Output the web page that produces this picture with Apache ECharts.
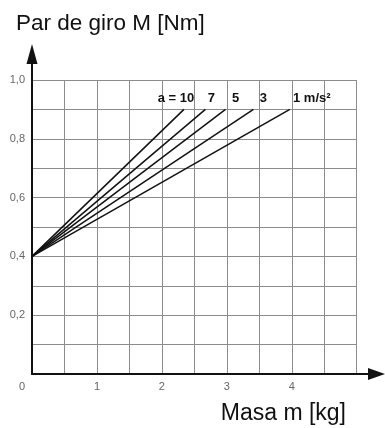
<!DOCTYPE html>
<html>
<head>
<meta charset="utf-8">
<script src="https://cdn.jsdelivr.net/npm/echarts@6/dist/echarts.min.js"></script>
<style>
  html, body { margin: 0; padding: 0; background: #fff; }
  #chart { width: 385px; height: 428px; }
</style>
</head>
<body>
<div id="chart"></div>
<script>
// aceleraciones y masa en la que cada recta llega a 0,9 Nm
const accelLabels = ['a = 10', '7', '5', '3', '1 m/s²'];
const endMass = [2.34, 2.67, 2.98, 3.41, 3.97];
const startTorque = 0.4;
const endTorque = 0.9;
const xTicks = [0, 1, 2, 3, 4];
const yTicks = [0.2, 0.4, 0.6, 0.8, 1.0];

// desplazamiento horizontal de cada etiqueta respecto al final de su recta
const labelShift = [-8, 6, 10, 10, 22];

const chart = echarts.init(document.getElementById('chart'));

const font = '"Liberation Sans", Arial, sans-serif';

const series = endMass.map((m, i) => ({
    type: 'line',
    xAxisIndex: 0,
    yAxisIndex: 0,
    symbol: 'circle',
    symbolSize: 0.01,
    showSymbol: true,
    silent: true,
    lineStyle: { color: '#111', width: 1.5 },
    itemStyle: { color: '#111' },
    data: [
        [0, startTorque],
        {
            value: [m, endTorque],
            label: {
                show: true,
                position: 'top',
                distance: 4,
                offset: [labelShift[i], 0],
                formatter: accelLabels[i],
                color: '#111',
                fontWeight: 'bold',
                fontSize: 13,
                fontFamily: font
            }
        }
    ]
}));

const option = {
    animation: false,
    title: {
        text: 'Par de giro M [Nm]',
        left: 11,
        top: 7,
        textStyle: { fontSize: 22.5, fontWeight: 'normal', color: '#111', fontFamily: font }
    },
    graphic: [{
        type: 'text',
        right: 39,
        bottom: 3,
        style: { text: 'Masa m [kg]', fontSize: 23, fill: '#111', fontFamily: font }
    }],
    grid: [
        { left: 32, right: 28.3, top: 80, bottom: 54 },
        { left: 32, right: 8.5, top: 54, bottom: 54 }
    ],
    xAxis: [{
        gridIndex: 0,
        type: 'value',
        min: 0,
        max: 5,
        interval: 0.5,
        axisLine: { show: false },
        axisTick: { show: false },
        splitLine: { lineStyle: { color: '#8c8c8c', width: 1 } },
        axisLabel: {
            margin: 7,
            color: '#666',
            fontSize: 11,
            fontFamily: font,
            formatter: v => {
                if (v === 0) return '{o|0}';
                return xTicks.includes(v) ? String(v) : '';
            },
            rich: { o: { padding: [0, 20, 0, 0], fontSize: 11, color: '#666' } }
        }
    }, {
        gridIndex: 1,
        type: 'value',
        min: 0,
        max: 1,
        axisLine: {
            show: true,
            symbol: ['none', 'triangle'],
            symbolSize: [12, 17],
            lineStyle: { color: '#111', width: 2 }
        },
        axisTick: { show: false },
        axisLabel: { show: false },
        splitLine: { show: false }
    }],
    yAxis: [{
        gridIndex: 0,
        type: 'value',
        min: 0,
        max: 1,
        interval: 0.1,
        axisLine: { show: false },
        axisTick: { show: false },
        splitLine: { lineStyle: { color: '#8c8c8c', width: 1 } },
        axisLabel: {
            margin: 7,
            color: '#666',
            fontSize: 11,
            fontFamily: font,
            formatter: v => {
                const r = Math.round(v * 10) / 10;
                return yTicks.includes(r) ? r.toFixed(1).replace('.', ',') : '';
            }
        }
    }, {
        gridIndex: 1,
        type: 'value',
        min: 0,
        max: 1,
        axisLine: {
            show: true,
            symbol: ['none', 'triangle'],
            symbolSize: [11, 20],
            lineStyle: { color: '#111', width: 2 }
        },
        axisTick: { show: false },
        axisLabel: { show: false },
        splitLine: { show: false }
    }],
    series: series
};

chart.setOption(option);
</script>
</body>
</html>
